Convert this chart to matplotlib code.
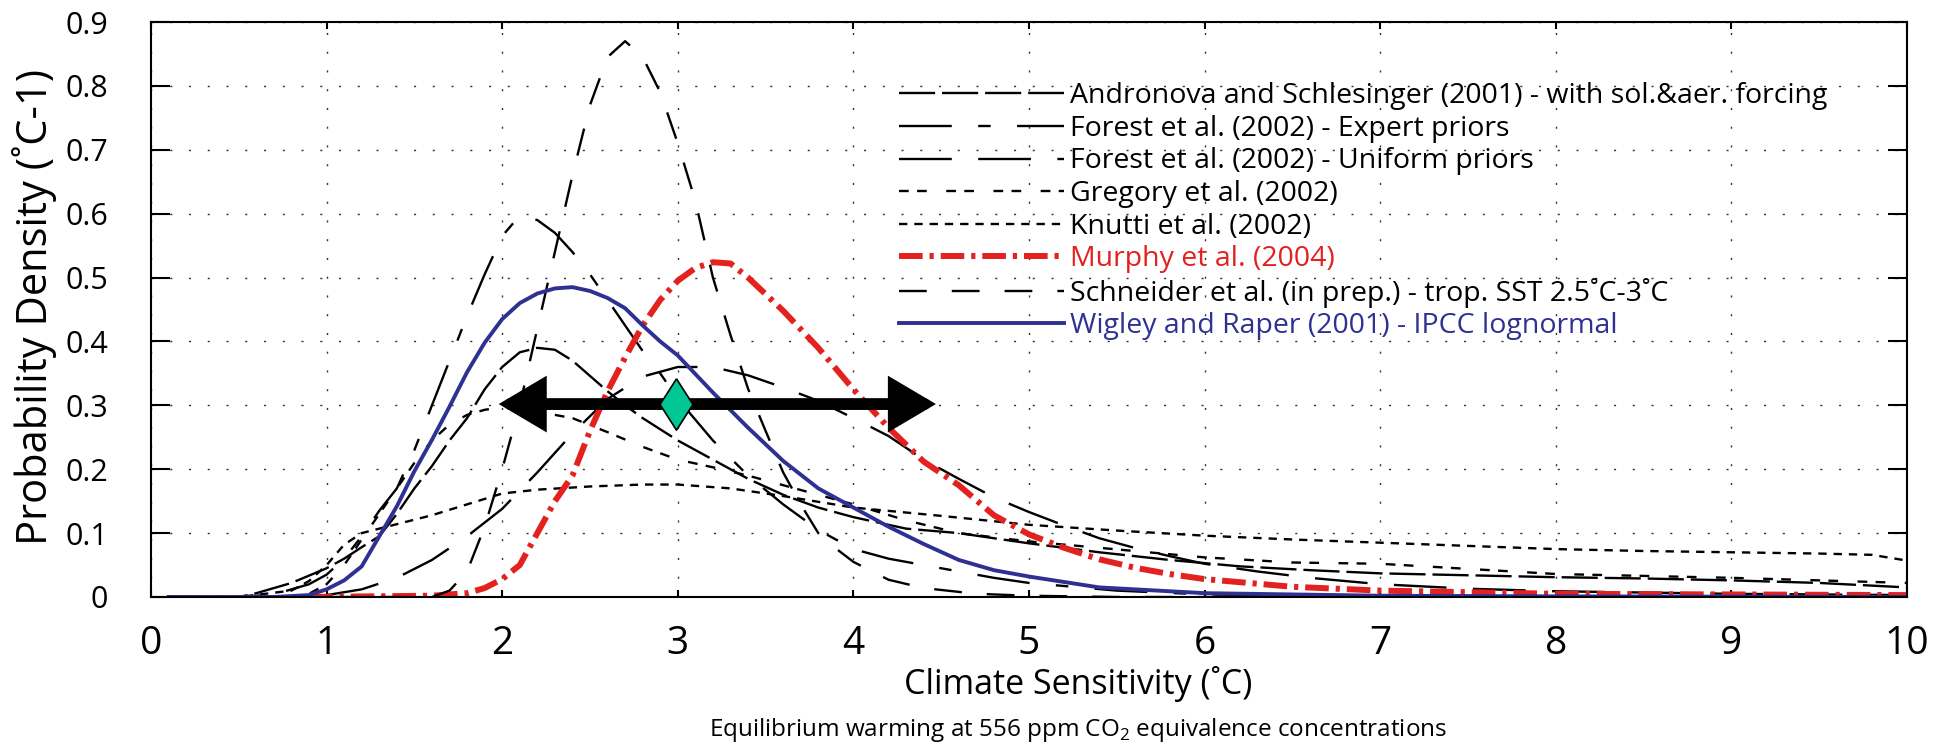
import matplotlib
matplotlib.use('Agg')
import matplotlib.pyplot as plt
from matplotlib.patches import ArrowStyle
from matplotlib.path import Path

plt.rcParams['font.family'] = ['Open Sans', 'DejaVu Sans']
plt.rcParams['mathtext.fontset'] = 'custom'
plt.rcParams['mathtext.rm'] = 'Open Sans'
plt.rcParams['lines.scale_dashes'] = False

# ---- data ----
andronova_x = [0.1, 0.5, 0.6, 0.8, 1.0, 1.1, 1.2, 1.3, 1.4, 1.5, 1.6, 1.7, 1.8, 1.9, 2.0, 2.1, 2.2, 2.3,
               2.4, 2.5, 2.6, 2.7, 2.8, 3.0, 3.2, 3.4, 3.6, 3.8, 4.0, 4.3, 4.6, 5.0, 5.4, 5.8, 6.2, 6.6,
               7.0, 7.5, 8.0, 8.5, 9.0, 9.5, 10.0]
andronova_y = [0, 0, 0.006, 0.022, 0.045, 0.06, 0.078, 0.095, 0.13, 0.17, 0.205, 0.245, 0.28, 0.325,
               0.36, 0.383, 0.39, 0.387, 0.37, 0.346, 0.322, 0.3, 0.28, 0.245, 0.215, 0.185, 0.16, 0.14,
               0.125, 0.107, 0.1, 0.084, 0.07, 0.058, 0.048, 0.042, 0.037, 0.034, 0.031, 0.029, 0.026,
               0.022, 0.015]

forest_exp_x = [0.1, 0.5, 0.7, 0.9, 1.0, 1.1, 1.2, 1.3, 1.4, 1.5, 1.6, 1.7, 1.8, 1.9, 2.0, 2.1, 2.2,
                2.3, 2.4, 2.5, 2.6, 2.7, 2.8, 2.9, 3.0, 3.2, 3.4, 3.6, 3.8, 4.0, 4.2, 4.5, 4.8, 5.0,
                5.5, 6.0, 7.0, 10.0]
forest_exp_y = [0, 0, 0.004, 0.02, 0.035, 0.06, 0.095, 0.135, 0.17, 0.23, 0.30, 0.37, 0.44, 0.505,
                0.565, 0.597, 0.59, 0.57, 0.54, 0.505, 0.465, 0.425, 0.385, 0.35, 0.31, 0.245, 0.19,
                0.145, 0.105, 0.075, 0.06, 0.045, 0.03, 0.022, 0.01, 0.004, 0.0, 0.0]

forest_uni_x = [0.1, 0.8, 1.0, 1.2, 1.4, 1.6, 1.8, 2.0, 2.2, 2.4, 2.6, 2.8, 3.0, 3.2, 3.4, 3.6, 3.8,
                4.0, 4.2, 4.4, 4.6, 4.8, 5.0, 5.2, 5.4, 5.6, 5.8, 6.0, 6.3, 6.6, 7.0, 7.5, 8.0, 9.0, 10.0]
forest_uni_y = [0, 0, 0.003, 0.012, 0.03, 0.058, 0.095, 0.138, 0.195, 0.256, 0.31, 0.345, 0.36, 0.36,
                0.347, 0.328, 0.307, 0.28, 0.252, 0.215, 0.185, 0.156, 0.133, 0.112, 0.092, 0.077,
                0.064, 0.052, 0.04, 0.03, 0.02, 0.013, 0.009, 0.005, 0.003]

gregory_x = [0.1, 0.8, 0.9, 1.0, 1.1, 1.2, 1.3, 1.4, 1.5, 1.6, 1.7, 1.8, 1.9, 2.0, 2.2, 2.4, 2.6, 2.8,
             3.0, 3.2, 3.4, 3.6, 3.8, 4.0, 4.3, 4.6, 5.0, 5.4, 6.0, 6.5, 7.0, 7.5, 8.0, 9.0, 10.0]
gregory_y = [0, 0, 0.005, 0.02, 0.05, 0.09, 0.13, 0.17, 0.21, 0.245, 0.27, 0.285, 0.293, 0.297, 0.29,
             0.28, 0.258, 0.235, 0.215, 0.203, 0.19, 0.175, 0.16, 0.145, 0.12, 0.1, 0.087, 0.077,
             0.062, 0.054, 0.052, 0.044, 0.036, 0.03, 0.022]

knutti_x = [0.1, 0.5, 0.8, 0.9, 1.0, 1.1, 1.2, 1.4, 1.6, 1.8, 2.0, 2.2, 2.5, 2.8, 3.0, 3.3, 3.6, 4.0,
            4.5, 5.0, 5.5, 6.0, 6.5, 7.0, 7.5, 8.0, 8.5, 9.0, 9.5, 9.8, 10.0]
knutti_y = [0, 0, 0.01, 0.025, 0.05, 0.082, 0.1, 0.114, 0.128, 0.145, 0.162, 0.168, 0.173, 0.176,
            0.176, 0.17, 0.158, 0.14, 0.127, 0.113, 0.104, 0.096, 0.09, 0.085, 0.08, 0.075, 0.072,
            0.07, 0.068, 0.066, 0.057]

murphy_x = [0.9, 1.6, 1.8, 1.9, 2.0, 2.1, 2.2, 2.3, 2.4, 2.5, 2.6, 2.7, 2.8, 2.9, 3.0, 3.1, 3.2, 3.3,
            3.4, 3.6, 3.8, 4.0, 4.2, 4.4, 4.6, 4.8, 5.0, 5.2, 5.4, 5.6, 5.8, 6.0, 6.5, 7.0, 8.0, 9.0, 10.0]
murphy_y = [0, 0.002, 0.006, 0.014, 0.028, 0.05, 0.1, 0.15, 0.19, 0.26, 0.322, 0.375, 0.425, 0.465,
            0.495, 0.515, 0.524, 0.522, 0.50, 0.448, 0.39, 0.325, 0.265, 0.212, 0.175, 0.128, 0.098,
            0.077, 0.059, 0.046, 0.036, 0.028, 0.016, 0.01, 0.005, 0.004, 0.003]

schneider_x = [0.1, 1.6, 1.7, 1.8, 1.9, 2.0, 2.1, 2.2, 2.3, 2.4, 2.5, 2.6, 2.7, 2.8, 2.9, 3.0, 3.1,
               3.2, 3.3, 3.4, 3.5, 3.6, 3.7, 3.8, 3.9, 4.0, 4.2, 4.4, 4.7, 5.0, 5.5, 10.0]
schneider_y = [0, 0, 0.01, 0.04, 0.11, 0.20, 0.30, 0.42, 0.54, 0.66, 0.77, 0.845, 0.87, 0.845, 0.79,
               0.71, 0.62, 0.50, 0.41, 0.326, 0.26, 0.195, 0.145, 0.10, 0.076, 0.055, 0.027, 0.014,
               0.005, 0.002, 0, 0]

wigley_x = [0.1, 0.7, 0.9, 1.0, 1.1, 1.2, 1.3, 1.4, 1.5, 1.6, 1.7, 1.8, 1.9, 2.0, 2.1, 2.2, 2.3, 2.4,
            2.5, 2.6, 2.7, 2.8, 2.9, 3.0, 3.2, 3.4, 3.6, 3.8, 4.0, 4.2, 4.4, 4.6, 4.8, 5.0, 5.4, 6.0,
            7.0, 8.0, 10.0]
wigley_y = [0, 0, 0.003, 0.012, 0.026, 0.048, 0.095, 0.142, 0.197, 0.246, 0.298, 0.352, 0.398, 0.435,
            0.46, 0.475, 0.483, 0.485, 0.479, 0.468, 0.452, 0.425, 0.40, 0.378, 0.32, 0.265, 0.213,
            0.17, 0.14, 0.11, 0.083, 0.058, 0.042, 0.032, 0.015, 0.006, 0.002, 0.001, 0.0]

labels = ['Andronova and Schlesinger (2001) - with sol.&aer. forcing',
          'Forest et al. (2002) - Expert priors',
          'Forest et al. (2002) - Uniform priors',
          'Gregory et al. (2002)',
          'Knutti et al. (2002)',
          'Murphy et al. (2004)',
          'Schneider et al. (in prep.) - trop. SST 2.5\u02daC-3\u02daC',
          'Wigley and Raper (2001) - IPCC lognormal']

# IPCC likely range and best estimate (arrow + diamond)
range_lo, range_hi, range_y = 1.98, 4.47, 0.302
best_x, best_y = 2.99, 0.302

red = '#e3211f'
blue = '#2e3192'

fig = plt.figure(figsize=(19.4, 7.46), dpi=100)
ax = fig.add_axes([151/1940, 1-597/746, 1756/1940, 575/746])

ax.plot(andronova_x, andronova_y, color='k', lw=1.7, dashes=(26, 5), label=labels[0])
ax.plot(forest_exp_x, forest_exp_y, color='k', lw=1.7, dashes=(38, 19, 9, 19), label=labels[1])
ax.plot(forest_uni_x, forest_uni_y, color='k', lw=1.7, dashes=(38, 19), label=labels[2])
ax.plot(gregory_x, gregory_y, color='k', lw=1.7, dashes=(7, 6, 7, 14), label=labels[3])
ax.plot(knutti_x, knutti_y, color='k', lw=1.7, dashes=(6, 5), label=labels[4])
ax.plot(murphy_x, murphy_y, color=red, lw=4.3, dashes=(17, 5, 3, 5), label=labels[5])
ax.plot(schneider_x, schneider_y, color='k', lw=1.7, dashes=(20, 18), label=labels[6])
ax.plot(wigley_x, wigley_y, color=blue, lw=2.8, label=labels[7])

# likely range arrow and best estimate
ax.annotate('', xy=(range_hi, range_y), xytext=(range_lo, range_y),
            arrowprops=dict(arrowstyle=ArrowStyle('<|-|>', head_length=22, head_width=13),
                            mutation_scale=1, lw=8.5, color='k', shrinkA=0, shrinkB=0,
                            joinstyle='miter'))
diamond = Path([(0, 1), (0.64, 0), (0, -1), (-0.64, 0), (0, 1)])
ax.plot([best_x], [best_y], marker=diamond, markersize=37, color='#00c794',
        markeredgecolor='k', markeredgewidth=1.2, zorder=5)

ax.set_xlim(0, 10)
ax.set_ylim(0, 0.9)
ax.set_xticks(range(0, 11))
ax.set_yticks([i / 10 for i in range(10)])
ax.set_yticklabels(['0'] + ['0.%d' % i for i in range(1, 10)])
ax.grid(True, color='#333333', lw=1.0, linestyle=(0, (1.5, 12)))
ax.set_axisbelow(True)
ax.tick_params(axis='x', direction='in', top=True, length=5, width=1.5, labelsize=28, pad=20)
ax.tick_params(axis='y', direction='in', right=True, length=14, width=1.5, labelsize=22, pad=31)
for s in ax.spines.values():
    s.set_linewidth(1.5)

leg = ax.legend(loc='upper left', bbox_to_anchor=(0.426, 0.895), frameon=False, fontsize=20.5,
                handlelength=5.8, handletextpad=0.2, labelspacing=0.16, borderpad=0,
                borderaxespad=0)
for t, c in zip(leg.get_texts(), ['k'] * 5 + [red, 'k', blue]):
    t.set_color(c)

fig.text(35/1940, 1-307/746, 'Probability Density (\u02daC-1)', rotation=90,
         ha='center', va='center', fontsize=30)
fig.text(1078/1940, 1-684/746, 'Climate Sensitivity (\u02daC)', ha='center', va='center', fontsize=24.5)
fig.text(1078/1940, 1-730/746, 'Equilibrium warming at 556 ppm CO$_2$ equivalence concentrations',
         ha='center', va='center', fontsize=17.5)

fig.savefig('out.png', dpi=100)
